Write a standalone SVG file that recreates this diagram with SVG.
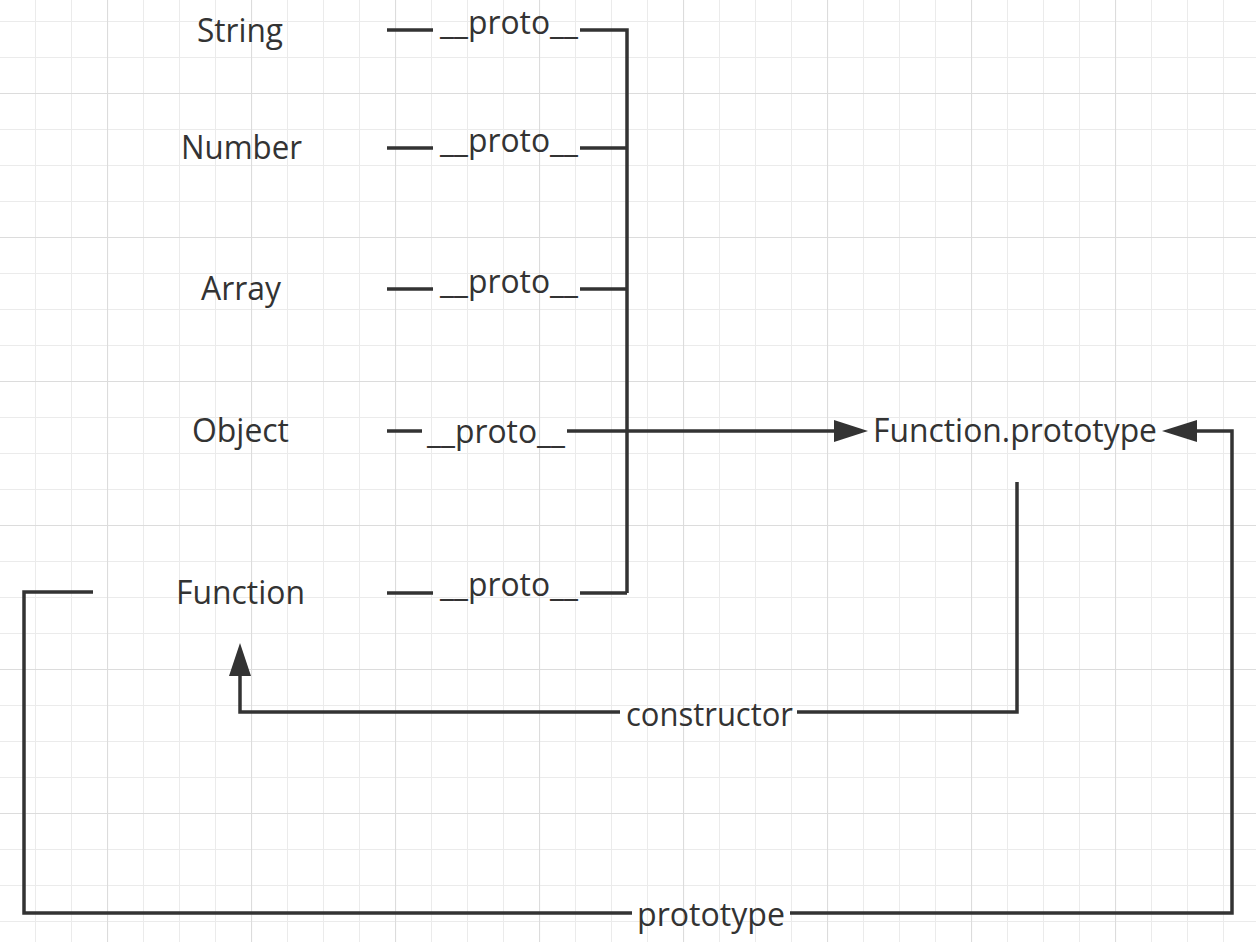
<svg xmlns="http://www.w3.org/2000/svg" width="1256" height="942" viewBox="0 0 1256 942">
<style>
.t{font-family:"Open Sans","Noto Sans","Liberation Sans",sans-serif;font-size:32px;fill:#333;}
.e{fill:none;stroke:#333;stroke-width:3.5;stroke-linejoin:miter;stroke-linecap:butt;}
.lbl{text-anchor:start;}
.mid{text-anchor:middle;}
</style>
<defs>
<pattern id="minor" x="35" y="21" width="36" height="36" patternUnits="userSpaceOnUse">
<path d="M0 0.5H36M0.5 0V36" stroke="#ebebeb" stroke-width="1" fill="none"/>
</pattern>
<pattern id="major" x="107" y="93" width="144" height="144" patternUnits="userSpaceOnUse">
<path d="M0 0.5H144M0.5 0V144" stroke="#dcdcdc" stroke-width="1.2" fill="none"/>
</pattern>
<marker id="arr" markerWidth="10" markerHeight="7" refX="9.4" refY="3.5" orient="auto" markerUnits="userSpaceOnUse" viewBox="0 0 10 7">
<path d="M0 0L10 3.5L0 7Z" fill="#333"/>
</marker>
</defs>
<rect width="1256" height="942" fill="#ffffff"/>
<rect width="1256" height="942" fill="url(#minor)"/>
<rect width="1256" height="942" fill="url(#major)"/>

<g id="connectors">
<!-- proto edges -->
<path class="e" d="M387 30H433M580 30H627V593"/>
<path class="e" d="M387 148H433M580 148H627"/>
<path class="e" d="M387 289H433M580 289H627"/>
<path class="e" d="M580 593H627M387 593H433"/>
<path class="e" d="M387 431H422M567 431H840"/>
<path d="M868 431L834 420L834 442Z" fill="#333"/>
<text class="t lbl" x="440" y="34" textLength="138" lengthAdjust="spacingAndGlyphs">__proto__</text>
<text class="t lbl" x="440" y="152" textLength="138" lengthAdjust="spacingAndGlyphs">__proto__</text>
<text class="t lbl" x="440" y="293" textLength="138" lengthAdjust="spacingAndGlyphs">__proto__</text>
<text class="t lbl" x="427" y="443" textLength="138" lengthAdjust="spacingAndGlyphs">__proto__</text>
<text class="t lbl" x="440" y="596" textLength="138" lengthAdjust="spacingAndGlyphs">__proto__</text>
<!-- constructor -->
<path class="e" d="M1017 482V712H797M620 712H240V672"/>
<path d="M240 643L229 676L251 676Z" fill="#333"/>
<text class="t lbl" x="626" y="726" textLength="167" lengthAdjust="spacingAndGlyphs">constructor</text>
<!-- prototype -->
<path class="e" d="M93 592H24V913H632M790 913H1232V431H1192"/>
<path d="M1162 431L1197 420L1197 442Z" fill="#333"/>
<text class="t lbl" x="637" y="926" textLength="148" lengthAdjust="spacingAndGlyphs">prototype</text>
</g>

<g id="node-string"><text class="t lbl" x="197" y="42" textLength="86" lengthAdjust="spacingAndGlyphs">String</text></g>
<g id="node-number"><text class="t lbl" x="181" y="159" textLength="121" lengthAdjust="spacingAndGlyphs">Number</text></g>
<g id="node-array"><text class="t lbl" x="201" y="300" textLength="80" lengthAdjust="spacingAndGlyphs">Array</text></g>
<g id="node-object"><text class="t lbl" x="192" y="442" textLength="97" lengthAdjust="spacingAndGlyphs">Object</text></g>
<g id="node-function"><text class="t lbl" x="176" y="604" textLength="129" lengthAdjust="spacingAndGlyphs">Function</text></g>
<g id="node-function-prototype"><text class="t lbl" x="873" y="442" textLength="284" lengthAdjust="spacingAndGlyphs">Function.prototype</text></g>
</svg>
